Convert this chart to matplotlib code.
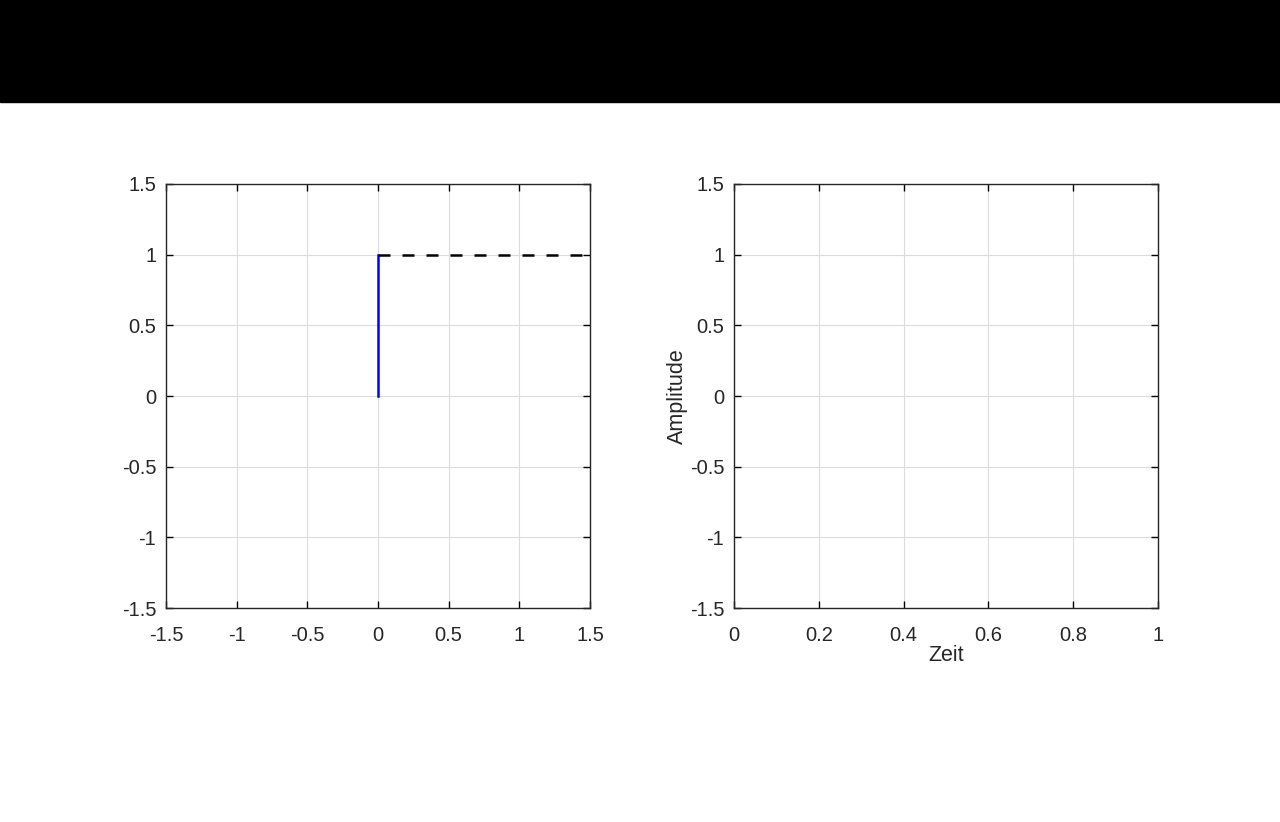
import matplotlib
matplotlib.use('Agg')
import matplotlib.pyplot as plt
from matplotlib.patches import Rectangle

plt.rcParams['font.family'] = ['Liberation Sans', 'DejaVu Sans']

# --- data
vec_x = [0, 0]
vec_y = [0, 1]
dash_x = [0, 1.5]
dash_y = [1, 1]
ticks_sym = [-1.5, -1, -0.5, 0, 0.5, 1, 1.5]
ticks_t = [0, 0.2, 0.4, 0.6, 0.8, 1]

def fmt(v):
    return ('%g' % v)

fig = plt.figure(figsize=(12.8, 8.22), dpi=100)
fig.patches.append(Rectangle((0, 1 - 102 / 822), 1, 102 / 822, transform=fig.transFigure,
                             color='black', zorder=0))

def style(ax, xt, yt):
    ax.set_xticks(xt)
    ax.set_yticks(yt)
    ax.set_xticklabels([fmt(v) for v in xt])
    ax.set_yticklabels([fmt(v) for v in yt])
    ax.tick_params(direction='in', length=5, width=1, top=True, right=True,
                   labelsize=14.5, labelcolor='#262626')
    ax.tick_params(axis='x', pad=13)
    ax.tick_params(axis='y', pad=7)
    ax.grid(True, color='#dcdcdc', linewidth=0.8)
    ax.set_axisbelow(True)
    for s in ax.spines.values():
        s.set_color('#262626')
        s.set_linewidth(1)

w = 424 / 1280
h = 424 / 822
b = 1 - 608 / 822

ax1 = fig.add_axes([166 / 1280, b, w, h])
ax1.plot(vec_x, vec_y, color='blue', linewidth=1.8)
ax1.plot(dash_x, dash_y, color='black', linewidth=1.8, linestyle=(0, (4.8, 4.8)))
ax1.set_xlim(-1.5, 1.5)
ax1.set_ylim(-1.5, 1.5)
style(ax1, ticks_sym, ticks_sym)

ax2 = fig.add_axes([734 / 1280, b, w, h])
ax2.set_xlim(0, 1)
ax2.set_ylim(-1.5, 1.5)
style(ax2, ticks_t, ticks_sym)
ax2.set_xlabel('Zeit', fontsize=15.5, color='#262626', labelpad=0)
ax2.set_ylabel('Amplitude', fontsize=15.5, color='#262626', labelpad=1)

fig.savefig('out.png', dpi=100)
